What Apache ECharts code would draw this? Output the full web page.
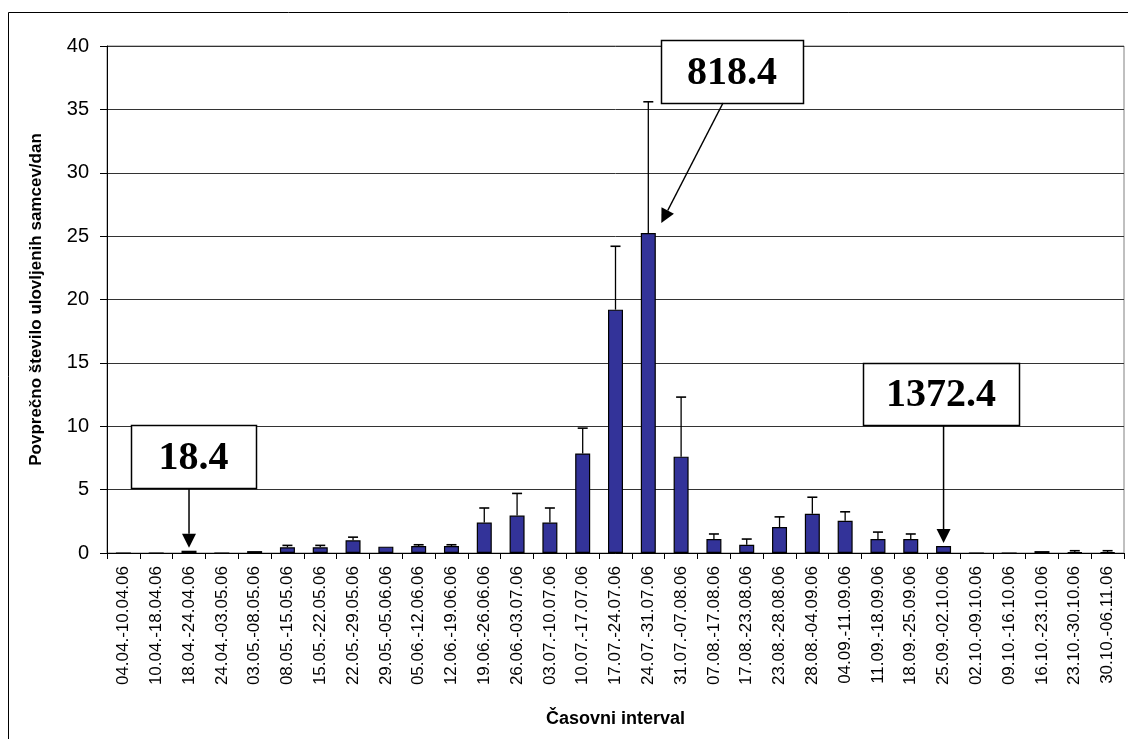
<!DOCTYPE html>
<html>
<head>
<meta charset="utf-8">
<script src="https://cdn.jsdelivr.net/npm/echarts@6/dist/echarts.min.js"></script>
<style>
  html, body { margin: 0; padding: 0; background: #fff; }
  #chart { width: 1128px; height: 739px; }
</style>
</head>
<body>
<div id="chart"></div>
<script>
const categories = [
  '04.04.-10.04.06', '10.04.-18.04.06', '18.04.-24.04.06', '24.04.-03.05.06',
  '03.05.-08.05.06', '08.05.-15.05.06', '15.05.-22.05.06', '22.05.-29.05.06',
  '29.05.-05.06.06', '05.06.-12.06.06', '12.06.-19.06.06', '19.06.-26.06.06',
  '26.06.-03.07.06', '03.07.-10.07.06', '10.07.-17.07.06', '17.07.-24.07.06',
  '24.07.-31.07.06', '31.07.-07.08.06', '07.08.-17.08.06', '17.08.-23.08.06',
  '23.08.-28.08.06', '28.08.-04.09.06', '04.09.-11.09.06', '11.09.-18.09.06',
  '18.09.-25.09.06', '25.09.-02.10.06', '02.10.-09.10.06', '09.10.-16.10.06',
  '16.10.-23.10.06', '23.10.-30.10.06', '30.10.-06.11.06'
]

// mean males caught per day
const means = [
  0, 0, 0.18, 0, 0.15, 0.45, 0.45, 1.0, 0.5, 0.55, 0.55, 2.4,
  2.95, 2.4, 7.85, 19.2, 25.25, 7.6, 1.1, 0.65, 2.05, 3.1, 2.55, 1.1,
  1.1, 0.55, 0, 0, 0.15, 0.05, 0.05
]

// upper error (added on top of the mean)
const errors = [
  0, 0, 0, 0, 0, 0.15, 0.15, 0.25, 0, 0.1, 0.1, 1.15,
  1.75, 1.15, 2.0, 5.0, 10.35, 4.7, 0.4, 0.45, 0.8, 1.3, 0.7, 0.55,
  0.4, 0, 0, 0, 0.03, 0.13, 0.13
]

const yTicks = { min: 0, max: 40, interval: 5 }

// callout boxes: text, category index it points at
const callouts = [
  { text: '18.4', idx: 2, box: [131, 425, 125, 63] },
  { text: '818.4', idx: 16, box: [661, 40, 142, 63] },
  { text: '1372.4', idx: 25, box: [863, 363, 156, 62] }
]

const chart = echarts.init(document.getElementById('chart'))

chart.setOption({
  animation: false,
  backgroundColor: '#fff',
  grid: {
    left: 107,
    right: 4,
    top: 46,
    bottom: 186,
    show: true,
    borderColor: '#808080',
    borderWidth: 1
  },
  xAxis: {
    type: 'category',
    data: categories,
    boundaryGap: true,
    name: 'Časovni interval',
    nameLocation: 'middle',
    nameGap: 157,
    nameTextStyle: { fontFamily: 'Liberation Sans', fontWeight: 'bold', fontSize: 18, color: '#000' },
    axisLine: { lineStyle: { color: '#000', width: 1 } },
    axisTick: { show: true, interval: 0, length: 6, lineStyle: { color: '#000' } },
    axisLabel: {
      interval: 0,
      rotate: 90,
      margin: 13,
      fontFamily: 'Liberation Sans',
      fontSize: 17,
      color: '#000'
    },
    splitLine: { show: false }
  },
  yAxis: {
    type: 'value',
    min: yTicks.min,
    max: yTicks.max,
    interval: yTicks.interval,
    name: 'Povprečno število ulovljenih samcev/dan',
    nameLocation: 'middle',
    nameGap: 62,
    nameTextStyle: { fontFamily: 'Liberation Sans', fontWeight: 'bold', fontSize: 17, color: '#000' },
    axisLine: { show: true, lineStyle: { color: '#000', width: 1 } },
    axisTick: { show: true, length: 7, lineStyle: { color: '#000' } },
    axisLabel: { fontFamily: 'Liberation Sans', fontSize: 20, color: '#000', margin: 18 },
    splitLine: { show: true, lineStyle: { color: '#333', width: 1 } }
  },
  series: [
    {
      name: 'mean',
      type: 'bar',
      data: means,
      barWidth: 15,
      itemStyle: { color: '#333399', borderColor: '#000', borderWidth: 1.2 },
      z: 2
    },
    {
      name: 'error',
      type: 'custom',
      z: 3,
      data: means.map((m, i) => [i, m, m + errors[i]]),
      renderItem: function (params, api) {
        const lo = api.coord([api.value(0), api.value(1)])
        const hi = api.coord([api.value(0), api.value(2)])
        if (lo[1] - hi[1] < 0.5) return null
        const half = 5
        return {
          type: 'group',
          children: [
            { type: 'line', shape: { x1: lo[0], y1: lo[1], x2: hi[0], y2: hi[1] }, style: { stroke: '#000', lineWidth: 1.3 } },
            { type: 'line', shape: { x1: hi[0] - half, y1: hi[1], x2: hi[0] + half, y2: hi[1] }, style: { stroke: '#000', lineWidth: 1.6 } }
          ]
        }
      }
    }
  ]
})

function arrow(x1, y1, x2, y2) {
  const dx = x2 - x1, dy = y2 - y1
  const len = Math.sqrt(dx * dx + dy * dy)
  const ux = dx / len, uy = dy / len
  const head = 14, w = 7
  const bx = x2 - ux * head, by = y2 - uy * head
  return [
    { type: 'line', shape: { x1: x1, y1: y1, x2: bx, y2: by }, style: { stroke: '#000', lineWidth: 1.5 }, z: 10 },
    {
      type: 'polygon',
      shape: { points: [[x2, y2], [bx - uy * w, by + ux * w], [bx + uy * w, by - ux * w]] },
      style: { fill: '#000' },
      z: 10
    }
  ]
}

const graphics = [
  // outer chart border
  { type: 'rect', shape: { x: 8.5, y: 12.5, width: 1140, height: 760 }, style: { fill: null, stroke: '#000', lineWidth: 1 }, z: 0, silent: true }
]

callouts.forEach(c => {
  const [bx, by, bw, bh] = c.box
  graphics.push({ type: 'rect', shape: { x: bx + 0.5, y: by + 0.5, width: bw, height: bh }, style: { fill: '#fff', stroke: '#000', lineWidth: 1.5 }, z: 9 })
  graphics.push({
    type: 'text', x: bx + bw / 2, y: by + bh / 2 + 2, z: 11,
    style: { text: c.text, fontFamily: 'Liberation Serif', fontWeight: 'bold', fontSize: 40, fill: '#000', align: 'center', verticalAlign: 'middle' }
  })
  const top = chart.convertToPixel({ xAxisIndex: 0, yAxisIndex: 0 }, [c.idx, means[c.idx]])
  let sx, sy, tx, ty
  if (c.idx === 16) {
    sx = bx + 62; sy = by + bh
    tx = top[0] + 13; ty = top[1] - 10
  } else {
    sx = top[0]; sy = by + bh
    tx = top[0]; ty = top[1] - 3
  }
  arrow(sx, sy, tx, ty).forEach(g => graphics.push(g))
})

chart.setOption({ graphic: graphics })
</script>
</body>
</html>
